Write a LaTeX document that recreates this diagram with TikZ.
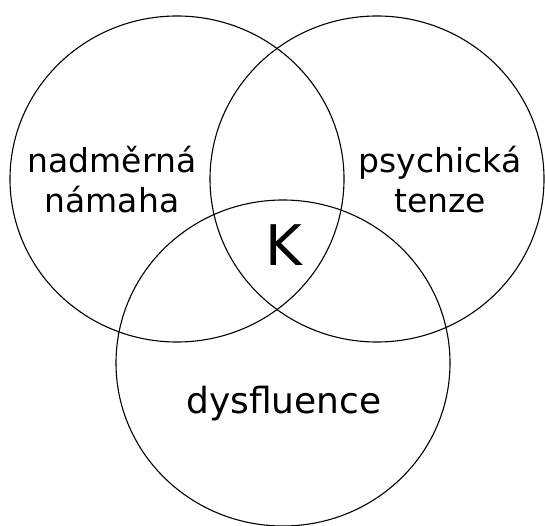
\documentclass[tikz,border=0pt]{standalone}
\usepackage{fontspec}
\newfontfamily\vennfont{DejaVu Sans}
\usepackage{tikz}
\usetikzlibrary{shapes.geometric}

\begin{document}
\begin{tikzpicture}[
      x=1pt, y=-1pt,
      every node/.style={font=\vennfont},
      vset/.style={draw, ellipse, line width=1.1pt, minimum width=334pt, minimum height=326pt, inner sep=0pt},
      vlabel/.style={align=center, inner sep=0pt, font=\vennfont\fontsize{33}{40}\selectfont},
      vcore/.style={inner sep=0pt, font=\vennfont\fontsize{56}{56}\selectfont},
  ]
    \useasboundingbox (0,0) rectangle (545,526);

    % the three sets
    \node[vset] (nam) at (177,179) {};
    \node[vset] (psy) at (377,179) {};
    \node[vset] (dys) at (283,363) {};

    % labels
    \node[vlabel] (namt) at (112,180) {nadměrná\\námaha};
    \node[vlabel] (psyt) at (440,180) {psychická\\tenze};
    \node[vlabel, font=\vennfont\fontsize{36}{40}\selectfont] (dyst) at (284,404) {dysfluence};
    \node[vcore] (core) at (284,245) {K};
  \end{tikzpicture}
\end{document}
